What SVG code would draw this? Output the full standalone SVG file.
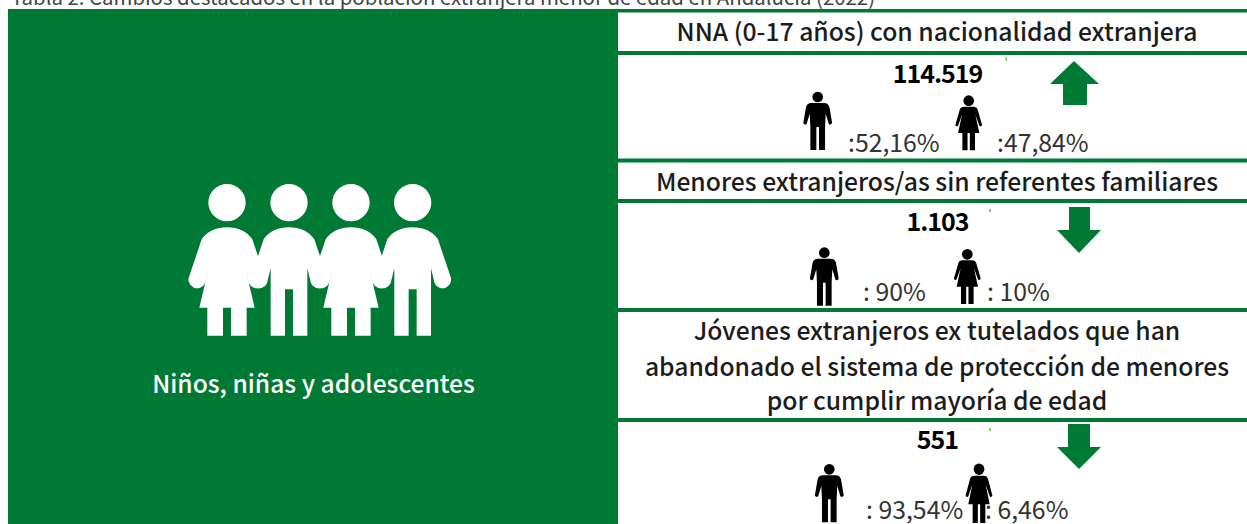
<svg xmlns="http://www.w3.org/2000/svg" xmlns:xlink="http://www.w3.org/1999/xlink" width="1247" height="524" viewBox="0 0 1247 524">
<style>
text{font-family:"Noto Sans CJK SC","Noto Sans",sans-serif}
.cap{font-size:20.400px;fill:#444}
.h{font-size:24.700px;font-weight:500;fill:#1c1c1c;text-anchor:middle}
.n{font-size:25px;font-weight:700;fill:#000;text-anchor:middle;letter-spacing:-1px}
.p{font-size:24.800px;fill:#333}
.g{fill:#007934}
.l{font-size:24.600px;font-weight:500;fill:#fff;text-anchor:middle}
</style>
<defs>
<g id="bigMan" fill="#fff"><circle cx="0" cy="98" r="56"/><path d="M0,172C33,172 60,184 76,208L113,318A24,24 0 0 1 66,340L55,295V497H12V358H-12V497H-55V295L-66,340A24,24 0 0 1 -113,318L-76,208C-60,184 -33,172 0,172Z"/></g>
<g id="bigWoman" fill="#fff"><circle cx="0" cy="98" r="56"/><path d="M0,172C33,172 60,184 76,208L113,318A24,24 0 0 1 66,340L55,295L83,413H59V497H12V413H-12V497H-59V413H-83L-55,295L-66,340A24,24 0 0 1 -113,318L-76,208C-60,184 -33,172 0,172Z"/></g>
<g id="man" fill="#000"><circle cx="0" cy="0" r="16"/><path d="M-19,18H19C29,18 33,24 35,30L43,76A5.500,5.500 0 0 1 33,80L24,50L22,90V159H4V90H-4V159H-22V90L-24,50L-33,80A5.500,5.500 0 0 1 -43,76L-35,30C-33,24 -29,18 -19,18Z"/></g>
<g id="woman" fill="#000"><circle cx="0" cy="0" r="16"/><path d="M-14,18H14C21,18 25,21 27,27L40,72A4.500,4.500 0 0 1 32,75L20,42L32,97H19V149H3.500V97H-3.500V149H-19V97H-32L-20,42L-32,75A4.500,4.500 0 0 1 -40,72L-27,27C-25,21 -21,18 -14,18Z"/></g>
</defs>
<rect width="1247" height="524" fill="#fff"/>
<text class="cap" x="11" y="5">Tabla 2. Cambios destacados en la población extranjera menor de edad en Andalucía (2022)</text>
<g id="panel">
<rect class="g" x="8" y="9" width="610" height="515"/>
<g transform="translate(170 170) scale(.3333)">
<use xlink:href="#bigWoman" x="171"/><use xlink:href="#bigMan" x="357"/><use xlink:href="#bigWoman" x="543"/><use xlink:href="#bigMan" x="728"/>
</g>
<text class="l" x="313.500" y="393">Niños, niñas y adolescentes</text>
</g>
<g id="rules">
<rect class="g" x="618" y="9" width="629" height="3.500"/>
<rect class="g" x="618" y="51" width="629" height="4"/>
<rect class="g" x="618" y="158.500" width="629" height="4"/>
<rect class="g" x="618" y="199" width="629" height="4"/>
<rect class="g" x="618" y="308" width="629" height="4"/>
<rect class="g" x="618" y="418" width="629" height="4"/>
</g>
<g id="row1">
<text class="h" x="937" y="41">NNA (0-17 años) con nacionalidad extranjera</text>
<text class="n" x="937.500" y="83">114.519</text>
<use xlink:href="#man" transform="translate(817.700 97) scale(.3333)"/>
<use xlink:href="#woman" transform="translate(968.700 100.700) scale(.3333)"/>
<text class="p" x="848" y="152">:52,16%</text>
<text class="p" x="997" y="152">:47,84%</text>
<polygon class="g" points="1074,61 1099,84 1087,84 1087,105 1063,105 1063,84 1050,84"/>
<rect x="1005.500" y="57" width="1.500" height="4" fill="#7cc96a"/>
</g>
<g id="row2">
<text class="h" x="937" y="191">Menores extranjeros/as sin referentes familiares</text>
<text class="n" x="937.500" y="231">1.103</text>
<use xlink:href="#man" transform="translate(824.300 252.700) scale(.3333)"/>
<use xlink:href="#woman" transform="translate(967.300 254.300) scale(.3333)"/>
<text class="p" x="863" y="301">: 90%</text>
<text class="p" x="987" y="301">: 10%</text>
<polygon class="g" points="1069,207 1090,207 1090,230 1101,230 1079,253 1057,230 1069,230"/>
<rect x="989" y="209" width="2" height="3" fill="#7cc96a"/>
</g>
<g id="row3">
<text class="h" x="937" y="340">Jóvenes extranjeros ex tutelados que han</text>
<text class="h" x="937" y="376">abandonado el sistema de protección de menores</text>
<text class="h" x="937" y="410">por cumplir mayoría de edad</text>
<text class="n" x="937.500" y="449">551</text>
<use xlink:href="#man" transform="translate(829.300 469.300) scale(.3333)"/>
<use xlink:href="#woman" transform="translate(979 469.300) scale(.3333 .3600)"/>
<text class="p" x="866" y="519">: 93,54%</text>
<text class="p" x="985" y="519">: 6,46%</text>
<polygon class="g" points="1068,424 1090,424 1090,447 1101,447 1079,469 1057,447 1068,447"/>
<rect x="989" y="428" width="2" height="3" fill="#7cc96a"/>
</g>
</svg>
